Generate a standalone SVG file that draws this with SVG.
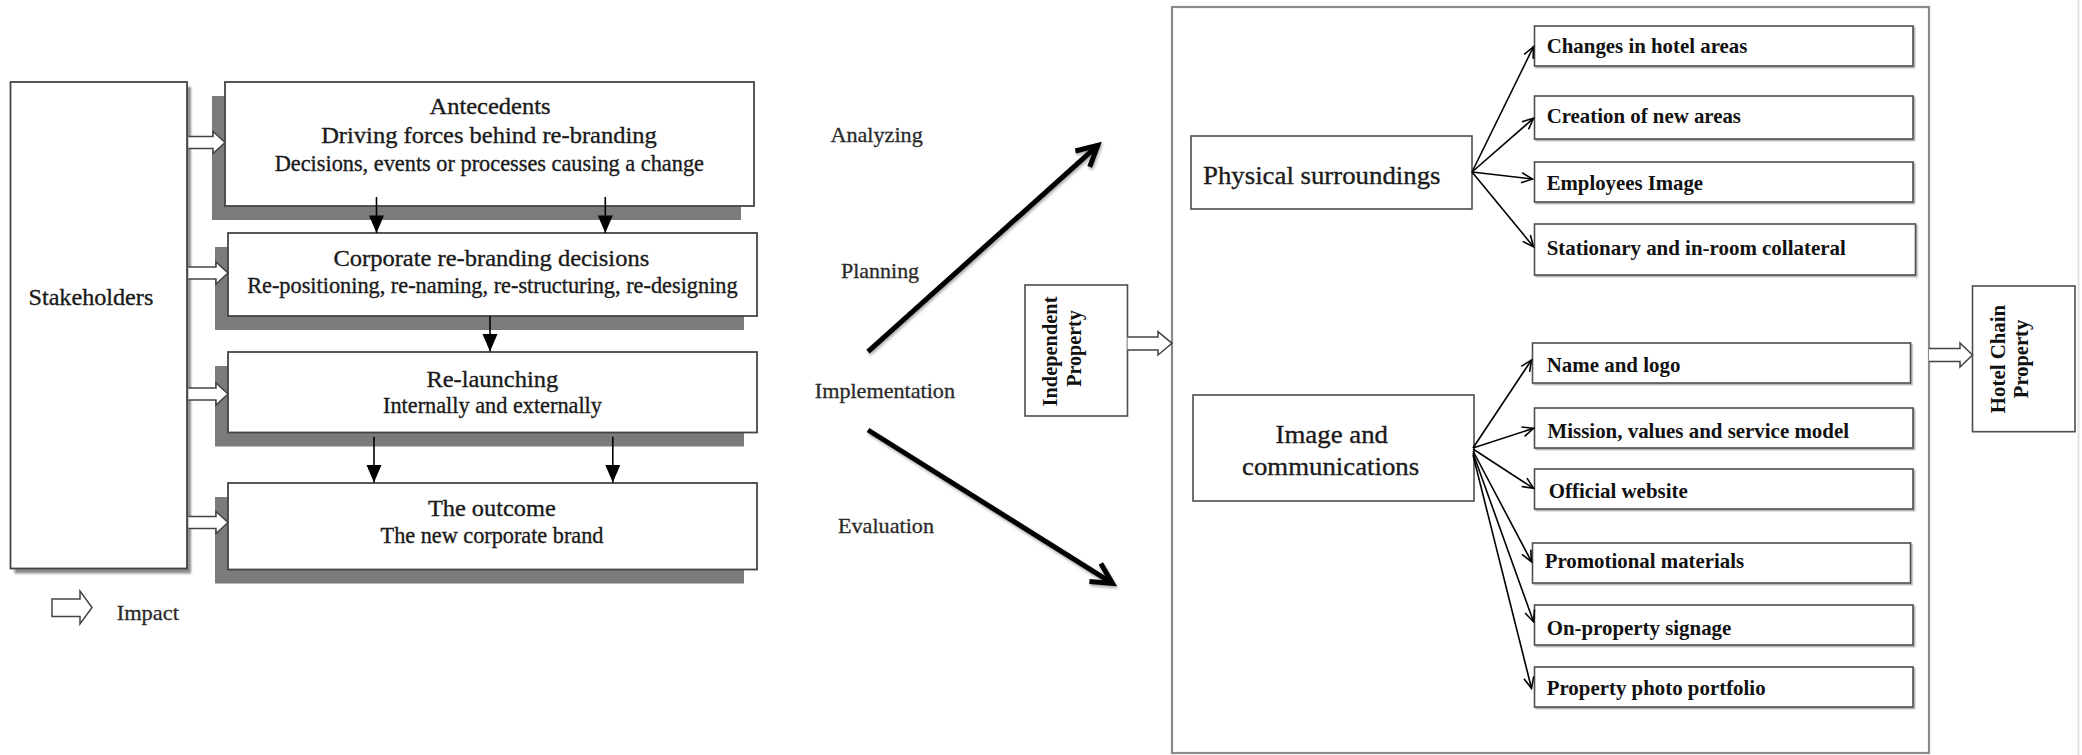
<svg xmlns="http://www.w3.org/2000/svg" width="2082" height="755" viewBox="0 0 2082 755" font-family="'Liberation Serif', 'Times New Roman', Times, serif">
  <style>
    .serif { font-family: "Liberation Serif", "Times New Roman", Times, serif; fill: #1a1a1a; }
    .reg { stroke: #1a1a1a; stroke-width: 0.35; }
    .t24 { font-size: 24px; }
    .t22 { font-size: 22.5px; }
    .phase { font-size: 22px; fill: #2a2a2a; stroke: #2a2a2a; stroke-width: 0.3; }
    .bold { font-size: 21px; font-weight: bold; fill: #111; }
    .vert { font-size: 20px; font-weight: bold; fill: #111; }
    .big-label { font-size: 26px; }
    .lbox { fill: #fff; stroke: #454545; stroke-width: 1.8; }
    .shadow { fill: #7b7b7b; }
    .frame { fill: none; stroke: #8a8a8a; stroke-width: 2.2; }
    .box { fill: #fff; stroke: #4d4d4d; stroke-width: 1.6; }
    .hollow { fill: #fff; stroke: #444; stroke-width: 1.5; stroke-linejoin: miter; }
    .thin { stroke: #000; stroke-width: 1.6; fill: none; }
    .big { stroke: #000; stroke-width: 5; fill: none; }
  </style>
  <defs>
    <filter id="lift" x="-5%" y="-5%" width="110%" height="115%">
      <feDropShadow dx="1.5" dy="1.5" stdDeviation="0.7" flood-color="#000" flood-opacity="0.3"/>
    </filter>
    <filter id="softShadow" x="-10%" y="-10%" width="130%" height="130%">
      <feGaussianBlur stdDeviation="1.3"/>
    </filter>
    <filter id="haze" x="-10%" y="-10%" width="120%" height="120%">
      <feDropShadow dx="1" dy="2" stdDeviation="1.5" flood-color="#000" flood-opacity="0.35"/>
    </filter>
    <marker id="solidHead" markerUnits="userSpaceOnUse" orient="auto" overflow="visible" markerWidth="20" markerHeight="18" refX="0" refY="0">
      <path d="M-17.5,-7.5 L0,0 L-17.5,7.5 Z" fill="#000"/>
    </marker>
    <marker id="openHead" markerUnits="userSpaceOnUse" orient="auto" overflow="visible" markerWidth="14" markerHeight="12" refX="0" refY="0">
      <path d="M-11,-5 L0,0 L-11,5" fill="none" stroke="#000" stroke-width="1.6"/>
    </marker>
    <marker id="bigHead" markerUnits="userSpaceOnUse" orient="auto" overflow="visible" markerWidth="30" markerHeight="30" refX="0" refY="0">
      <path d="M-20.5,-10.7 L0,0 L-20.5,10.7" fill="none" stroke="#000" stroke-width="5" stroke-linejoin="miter"/>
    </marker>
  </defs>

  <rect width="2082" height="755" fill="#fff"/>
  <line x1="2078.5" y1="0" x2="2078.5" y2="755" stroke="#e4e4e4" stroke-width="2"/>

  <!-- corporate re-branding process (left) -->
  <g id="stakeholders">
    <rect x="14.5" y="87" width="176.5" height="486.5" fill="#8c8c8c" filter="url(#softShadow)"/>
    <rect class="lbox" x="10.5" y="82" width="176.5" height="486.5"/>
    <text class="serif reg t24" x="28.5" y="305" textLength="124.8" lengthAdjust="spacingAndGlyphs">Stakeholders</text>
  </g>

  <g id="antecedents">
    <rect class="shadow" x="212" y="96" width="529" height="124"/>
    <rect class="lbox" x="225" y="82" width="529" height="124"/>
    <text class="serif reg t24" x="490" y="114" text-anchor="middle" textLength="121" lengthAdjust="spacingAndGlyphs">Antecedents</text>
    <text class="serif reg t24" x="489" y="143.3" text-anchor="middle" textLength="335.7" lengthAdjust="spacingAndGlyphs">Driving forces behind re-branding</text>
    <text class="serif reg t22" x="489.3" y="170.7" text-anchor="middle" textLength="429.3" lengthAdjust="spacingAndGlyphs">Decisions, events or processes causing a change</text>
  </g>

  <g id="corporate-decisions">
    <rect class="shadow" x="215" y="247" width="529" height="83"/>
    <rect class="lbox" x="228" y="233" width="529" height="83"/>
    <text class="serif reg t24" x="491.3" y="266" text-anchor="middle" textLength="315.8" lengthAdjust="spacingAndGlyphs">Corporate re-branding decisions</text>
    <text class="serif reg t22" x="492.4" y="293.3" text-anchor="middle" textLength="490.5" lengthAdjust="spacingAndGlyphs">Re-positioning, re-naming, re-structuring, re-designing</text>
  </g>

  <g id="re-launching">
    <rect class="shadow" x="215" y="366" width="529" height="80.5"/>
    <rect class="lbox" x="228" y="352" width="529" height="80.5"/>
    <text class="serif reg t24" x="492.3" y="386.7" text-anchor="middle" textLength="131.8" lengthAdjust="spacingAndGlyphs">Re-launching</text>
    <text class="serif reg t22" x="492.5" y="413.3" text-anchor="middle" textLength="218.9" lengthAdjust="spacingAndGlyphs">Internally and externally</text>
  </g>

  <g id="outcome">
    <rect class="shadow" x="215" y="497" width="529" height="86.5"/>
    <rect class="lbox" x="228" y="483" width="529" height="86.5"/>
    <text class="serif reg t24" x="491.8" y="516" text-anchor="middle" textLength="127.8" lengthAdjust="spacingAndGlyphs">The outcome</text>
    <text class="serif reg t22" x="492" y="542.7" text-anchor="middle" textLength="222.8" lengthAdjust="spacingAndGlyphs">The new corporate brand</text>
  </g>

  <g id="legend">
    <path class="hollow" d="M52,599 H80 V591 L92,607.5 L80,624 V616.5 H52 Z"/>
    <text class="serif phase" x="116.7" y="620" textLength="62.3" lengthAdjust="spacingAndGlyphs">Impact</text>
  </g>

  <!-- process phases -->
  <g id="phases">
    <text class="serif phase" x="830.4" y="141.7" textLength="92.4" lengthAdjust="spacingAndGlyphs">Analyzing</text>
    <text class="serif phase" x="841" y="277.7" textLength="78.1" lengthAdjust="spacingAndGlyphs">Planning</text>
    <text class="serif phase" x="814.8" y="398.3" textLength="140.2" lengthAdjust="spacingAndGlyphs">Implementation</text>
    <text class="serif phase" x="838" y="532.7" textLength="96" lengthAdjust="spacingAndGlyphs">Evaluation</text>
  </g>

  <!-- hotel re-branding (right) -->
  <g id="independent-property">
    <rect class="box" x="1025" y="285" width="102.5" height="131"/>
    <text class="serif vert" transform="translate(1056.5,351.5) rotate(-90)" text-anchor="middle" textLength="110" lengthAdjust="spacingAndGlyphs">Independent</text>
    <text class="serif vert" transform="translate(1081,348.5) rotate(-90)" text-anchor="middle" textLength="76.7" lengthAdjust="spacingAndGlyphs">Property</text>
  </g>

  <g id="rebranding-frame">
    <rect class="frame" x="1172" y="7" width="757" height="746"/>
  </g>

  <g id="physical-surroundings">
    <rect class="box" x="1191" y="136" width="281" height="73"/>
    <text class="serif reg big-label" x="1203" y="184" textLength="237.5" lengthAdjust="spacingAndGlyphs">Physical surroundings</text>
  </g>

  <g id="image-communications">
    <rect class="box" x="1193" y="395" width="281" height="106"/>
    <text class="serif reg big-label" x="1331.8" y="442.7" text-anchor="middle" textLength="112.5" lengthAdjust="spacingAndGlyphs">Image and</text>
    <text class="serif reg big-label" x="1330.6" y="475" text-anchor="middle" textLength="177.2" lengthAdjust="spacingAndGlyphs">communications</text>
  </g>

  <g id="hotel-areas">
    <rect class="box" filter="url(#lift)" x="1534.5" y="26" width="378.5" height="40"/>
    <text class="serif bold" x="1546.7" y="52.7" textLength="200.7" lengthAdjust="spacingAndGlyphs">Changes in hotel areas</text>
  </g>
  <g id="new-areas">
    <rect class="box" filter="url(#lift)" x="1534.5" y="96" width="378.5" height="43"/>
    <text class="serif bold" x="1546.7" y="123.3" textLength="194.3" lengthAdjust="spacingAndGlyphs">Creation of new areas</text>
  </g>
  <g id="employees-image">
    <rect class="box" filter="url(#lift)" x="1534.5" y="162" width="378.5" height="40"/>
    <text class="serif bold" x="1546.7" y="190" textLength="156.4" lengthAdjust="spacingAndGlyphs">Employees Image</text>
  </g>
  <g id="stationary">
    <rect class="box" filter="url(#lift)" x="1534.5" y="224" width="381" height="51"/>
    <text class="serif bold" x="1546.7" y="255" textLength="299.1" lengthAdjust="spacingAndGlyphs">Stationary and in-room collateral</text>
  </g>
  <g id="name-logo">
    <rect class="box" filter="url(#lift)" x="1532.5" y="343" width="378" height="40"/>
    <text class="serif bold" x="1546.7" y="371.7" textLength="133.8" lengthAdjust="spacingAndGlyphs">Name and logo</text>
  </g>
  <g id="mission">
    <rect class="box" filter="url(#lift)" x="1534.5" y="408" width="378.5" height="40"/>
    <text class="serif bold" x="1547.5" y="438.3" textLength="301.5" lengthAdjust="spacingAndGlyphs">Mission, values and service model</text>
  </g>
  <g id="website">
    <rect class="box" filter="url(#lift)" x="1534.5" y="469" width="378.5" height="40"/>
    <text class="serif bold" x="1548.8" y="498.3" textLength="139" lengthAdjust="spacingAndGlyphs">Official website</text>
  </g>
  <g id="promotional">
    <rect class="box" filter="url(#lift)" x="1532.5" y="543" width="378" height="40"/>
    <text class="serif bold" x="1544.7" y="568.3" textLength="199.5" lengthAdjust="spacingAndGlyphs">Promotional materials</text>
  </g>
  <g id="signage">
    <rect class="box" filter="url(#lift)" x="1534.5" y="605" width="378.5" height="40"/>
    <text class="serif bold" x="1546.7" y="635" textLength="184.6" lengthAdjust="spacingAndGlyphs">On-property signage</text>
  </g>
  <g id="photo-portfolio">
    <rect class="box" filter="url(#lift)" x="1534.5" y="667" width="378.5" height="40"/>
    <text class="serif bold" x="1546.7" y="695" textLength="218.9" lengthAdjust="spacingAndGlyphs">Property photo portfolio</text>
  </g>

  <g id="hotel-chain-property">
    <rect class="box" x="1972.5" y="286" width="102.5" height="145.7"/>
    <text class="serif vert" transform="translate(2005,359) rotate(-90)" text-anchor="middle" textLength="108.3" lengthAdjust="spacingAndGlyphs">Hotel Chain</text>
    <text class="serif vert" transform="translate(2027.5,359) rotate(-90)" text-anchor="middle" textLength="78.3" lengthAdjust="spacingAndGlyphs">Property</text>
  </g>

  <!-- connectors -->
  <g id="connectors">
    <!-- stakeholder impact arrows -->
    <path class="hollow" d="M188.5,136.5 H213 V131.5 L225,142.5 L213,153.5 V148.5 H188.5"/>
    <path class="hollow" d="M188.5,267 H216 V262 L228,273 L216,284 V279 H188.5"/>
    <path class="hollow" d="M188.5,388 H216 V383 L228,394 L216,405 V400 H188.5"/>
    <path class="hollow" d="M188.5,516.5 H216 V511.5 L228,522.5 L216,533.5 V528.5 H188.5"/>

    <!-- process flow -->
    <line class="thin" x1="376.5" y1="197" x2="376.5" y2="233" marker-end="url(#solidHead)"/>
    <line class="thin" x1="605.3" y1="197" x2="605.3" y2="233" marker-end="url(#solidHead)"/>
    <line class="thin" x1="490" y1="316" x2="490" y2="351.5" marker-end="url(#solidHead)"/>
    <line class="thin" x1="374" y1="436.7" x2="374" y2="482.5" marker-end="url(#solidHead)"/>
    <line class="thin" x1="612.8" y1="436.7" x2="612.8" y2="482.5" marker-end="url(#solidHead)"/>

    <!-- phase arrows -->
    <g filter="url(#haze)">
      <line class="big" x1="868" y1="351.7" x2="1097.8" y2="145.3" marker-end="url(#bigHead)"/>
      <line class="big" x1="868" y1="430" x2="1112.5" y2="583.4" marker-end="url(#bigHead)"/>
    </g>

    <!-- property transition -->
    <path class="hollow" d="M1127.5,337 H1158 V331.7 L1172,343.3 L1158,355 V350 H1127.5"/>
    <path class="hollow" d="M1929,348.5 H1960 V343 L1972.5,355 L1960,367 V361.5 H1929"/>

    <!-- physical surroundings fan -->
    <line class="thin" x1="1472" y1="172" x2="1533.5" y2="46.7" marker-end="url(#openHead)"/>
    <line class="thin" x1="1472" y1="172" x2="1533.5" y2="118.3" marker-end="url(#openHead)"/>
    <line class="thin" x1="1472" y1="172" x2="1532.5" y2="179" marker-end="url(#openHead)"/>
    <line class="thin" x1="1472" y1="172" x2="1533.5" y2="246.7" marker-end="url(#openHead)"/>

    <!-- image and communications fan -->
    <line class="thin" x1="1473" y1="448" x2="1531.5" y2="360" marker-end="url(#openHead)"/>
    <line class="thin" x1="1473" y1="448" x2="1533.5" y2="428.3" marker-end="url(#openHead)"/>
    <line class="thin" x1="1473" y1="449" x2="1533.5" y2="488.3" marker-end="url(#openHead)"/>
    <line class="thin" x1="1473" y1="451" x2="1531.5" y2="561.7" marker-end="url(#openHead)"/>
    <line class="thin" x1="1473" y1="453" x2="1533.5" y2="621.7" marker-end="url(#openHead)"/>
    <line class="thin" x1="1473" y1="455" x2="1531.5" y2="688.3" marker-end="url(#openHead)"/>
  </g>
</svg>
